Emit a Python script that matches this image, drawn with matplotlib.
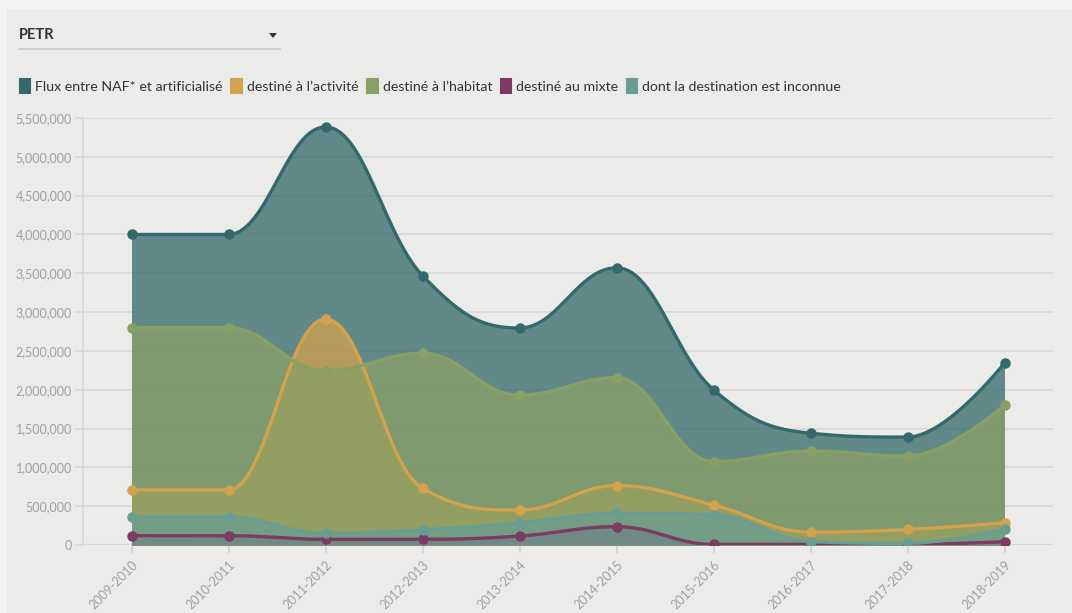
"""Flux NAF -> artificialisé par destination (PETR), 2009-2019."""

import matplotlib
matplotlib.use("Agg")
import matplotlib.pyplot as plt
import numpy as np
from matplotlib.lines import Line2D
from matplotlib.patches import Patch, Rectangle, Polygon
from matplotlib.ticker import FuncFormatter

periods = ["2009-2010", "2010-2011", "2011-2012", "2012-2013", "2013-2014",
           "2014-2015", "2015-2016", "2016-2017", "2017-2018", "2018-2019"]

flux_total = [4000000, 4000000, 5385000, 3470000, 2795000, 3570000, 2000000, 1440000, 1390000, 2345000]
activite = [710000, 710000, 2910000, 730000, 450000, 765000, 515000, 165000, 200000, 285000]
habitat = [2800000, 2800000, 2245000, 2470000, 1930000, 2155000, 1075000, 1210000, 1145000, 1800000]
mixte = [120000, 120000, 73000, 73000, 115000, 236000, 8000, 8000, 8000, 43000]
inconnue = [360000, 360000, 150000, 195000, 285000, 410000, 390000, 45000, 22000, 205000]

series_names = ["Flux entre NAF* et artificialisé", "destiné à l’activité", "destiné à l’habitat",
                "destiné au mixte", "dont la destination est inconnue"]
series_values = [flux_total, activite, habitat, mixte, inconnue]
series_colors = ["#33696a", "#d2a24c", "#88a065", "#7d3a62", "#6a9d91"]

FONT = ["Lato", "DejaVu Sans"]


def spline(xs, ys, steps=30):
    """Highcharts-like spline through the points (smoothing 1.5)."""
    xs = np.asarray(xs, float)
    ys = np.asarray(ys, float)
    n = len(xs)
    left = [(xs[i], ys[i]) for i in range(n)]
    right = [(xs[i], ys[i]) for i in range(n)]
    sm, den = 1.5, 2.5
    for i in range(1, n - 1):
        lx = (sm * xs[i] + xs[i - 1]) / den
        ly = (sm * ys[i] + ys[i - 1]) / den
        rx = (sm * xs[i] + xs[i + 1]) / den
        ry = (sm * ys[i] + ys[i + 1]) / den
        corr = 0.0
        if rx != lx:
            corr = (ry - ly) * (rx - xs[i]) / (rx - lx) + ys[i] - ry
        ly += corr
        ry += corr
        if ly > max(ys[i - 1], ys[i]):
            ly = max(ys[i - 1], ys[i])
            ry = 2 * ys[i] - ly
        elif ly < min(ys[i - 1], ys[i]):
            ly = min(ys[i - 1], ys[i])
            ry = 2 * ys[i] - ly
        if ry > max(ys[i + 1], ys[i]):
            ry = max(ys[i + 1], ys[i])
            ly = 2 * ys[i] - ry
        elif ry < min(ys[i + 1], ys[i]):
            ry = min(ys[i + 1], ys[i])
            ly = 2 * ys[i] - ry
        left[i] = (lx, ly)
        right[i] = (rx, ry)
    t = np.linspace(0, 1, steps)[:, None]
    out = []
    for i in range(n - 1):
        p0 = np.array([xs[i], ys[i]])
        p1 = np.array(right[i])
        p2 = np.array(left[i + 1])
        p3 = np.array([xs[i + 1], ys[i + 1]])
        seg = ((1 - t) ** 3) * p0 + 3 * ((1 - t) ** 2) * t * p1 + 3 * (1 - t) * t ** 2 * p2 + t ** 3 * p3
        out.append(seg if i == 0 else seg[1:])
    pts = np.vstack(out)
    return pts[:, 0], pts[:, 1]


fig = plt.figure(figsize=(10.72, 6.13), dpi=100, facecolor="#f2f3f5")
fig.patches.append(Rectangle((7 / 1072, 0), 1, 1 - 9 / 613, transform=fig.transFigure,
                             facecolor="#ebebe9", edgecolor="none", zorder=-10))

ax = fig.add_axes([83 / 1072, 1 - 545 / 613, (1053 - 83) / 1072, (545 - 118) / 613])
ax.set_facecolor("none")

x = np.arange(len(periods))
for vals, color in zip(series_values, series_colors):
    sx, sy = spline(x, vals)
    ax.fill_between(sx, 0, sy, color=color, alpha=0.75, linewidth=0, zorder=2)
for vals, color in zip(series_values, series_colors):
    sx, sy = spline(x, vals)
    ax.plot(sx, sy, color=color, lw=2.4, zorder=3, solid_capstyle="round")
    ax.plot(x, vals, "o", color=color, ms=6.5, zorder=4)

ax.set_xlim(-0.5, len(periods) - 0.5)
ax.set_ylim(0, 5500000)
ax.set_yticks(np.arange(0, 5500001, 500000))
ax.yaxis.set_major_formatter(FuncFormatter(lambda v, p: f"{int(v):,}"))
ax.set_xticks(x)
ax.set_xticklabels(periods, rotation=45, ha="right", rotation_mode="anchor")
ax.grid(axis="y", color="#d8d8d6", lw=1.2, zorder=0)
for s in ["top", "right", "bottom"]:
    ax.spines[s].set_visible(False)
ax.spines["left"].set_color("#d8d8d6")
ax.spines["left"].set_linewidth(1.2)
ax.axhline(0, color="#d0d0ce", lw=1.5, zorder=1)
ax.tick_params(axis="y", colors="#d8d8d6", labelcolor="#a0a0a0", length=6, width=1.2, pad=2, labelsize=9)
ax.tick_params(axis="x", colors="#d0d0ce", labelcolor="#a0a0a0", length=6, width=1.2, pad=4, labelsize=9)
for lab in ax.get_xticklabels() + ax.get_yticklabels():
    lab.set_family(FONT)

# dropdown
fig.text(19 / 1072, 1 - 35 / 613, "PETR", fontsize=10.5, fontweight="bold", color="#333333",
         family=FONT, va="center", ha="left")
fig.add_artist(Line2D([19 / 1072, 280 / 1072], [1 - 49 / 613, 1 - 49 / 613],
                      transform=fig.transFigure, color="#c8c8c8", lw=1.2))
tri = np.array([[269, 33], [277, 33], [273, 38]], float)
fig.add_artist(Polygon(np.column_stack([tri[:, 0] / 1072, 1 - tri[:, 1] / 613]),
                       closed=True, transform=fig.transFigure, facecolor="#333333", edgecolor="none"))

handles = [Patch(facecolor=c, edgecolor=c, lw=1.5, joinstyle="round") for c in series_colors]
fig.legend(handles, series_names, loc="center left", bbox_to_anchor=(7 / 1072, 1 - 86 / 613),
           ncol=5, frameon=False, handlelength=0.75, handleheight=1.15, handletextpad=0.35,
           columnspacing=0.6, prop={"family": FONT, "size": 10.2}, labelcolor="#333333")

fig.savefig("out.png", dpi=100, facecolor=fig.get_facecolor())
